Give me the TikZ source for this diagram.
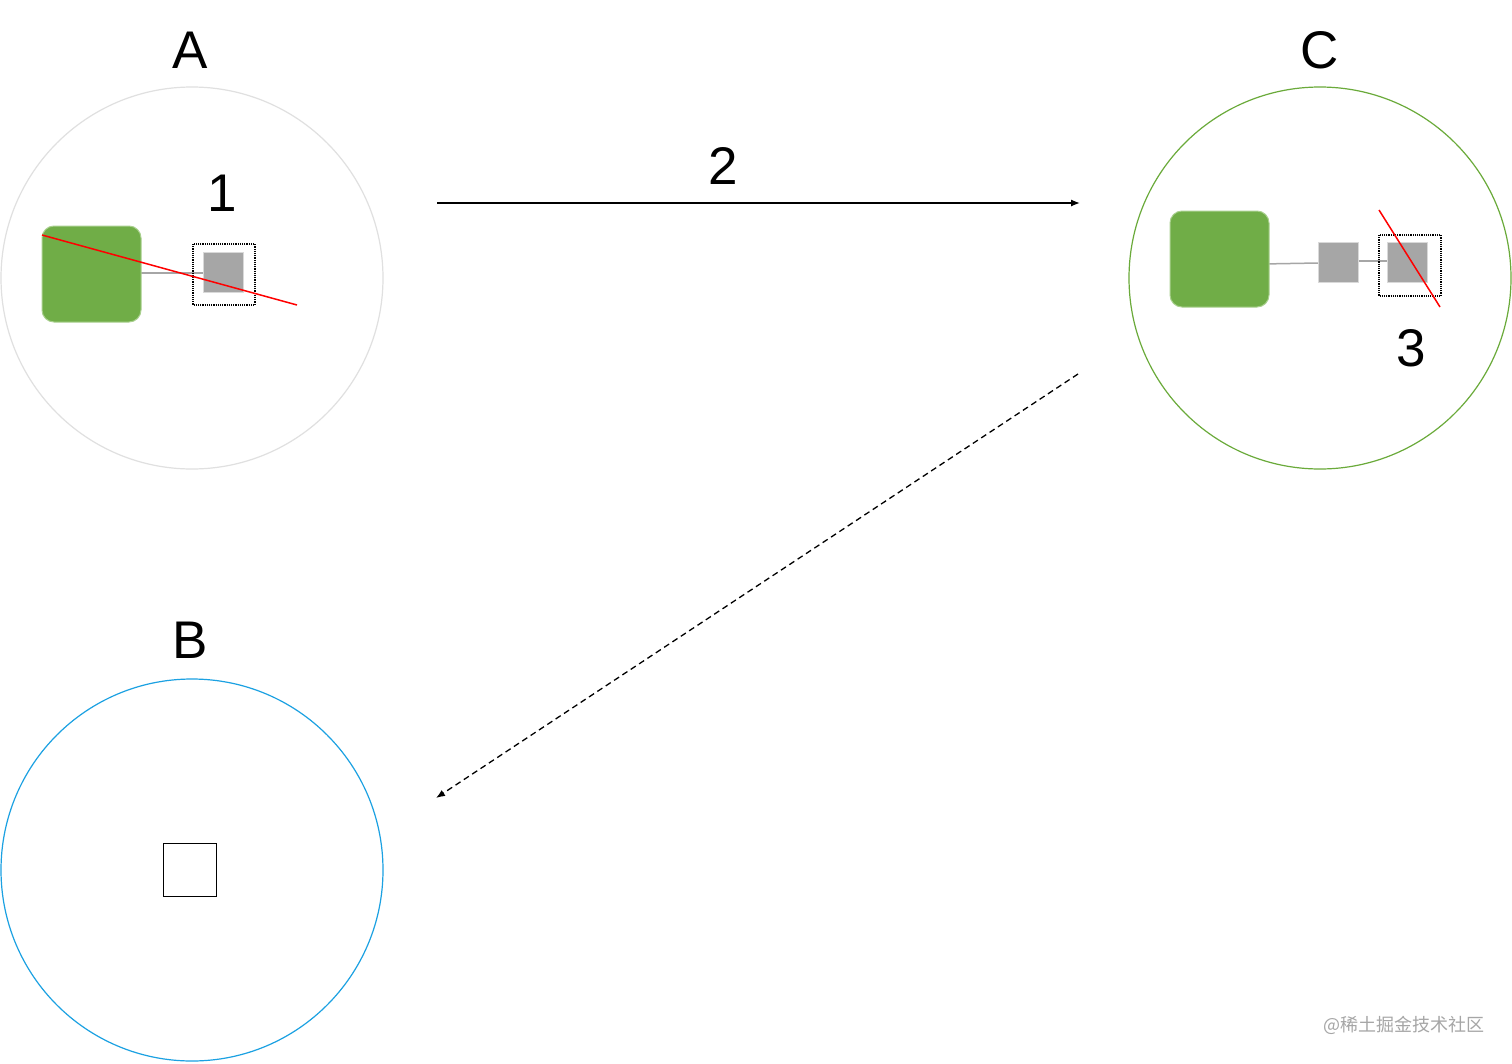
\documentclass[tikz,border=0pt]{standalone}
\usepackage{fontspec}
\setmainfont{Liberation Sans}
\newfontfamily\cjk{Noto Sans CJK SC}
\usetikzlibrary{arrows.meta}
\definecolor{gA}{HTML}{E0E0E0}
\definecolor{gC}{HTML}{6AAA3A}
\definecolor{bB}{HTML}{1BA1E2}
\definecolor{gfill}{HTML}{70AD47}
\definecolor{gedge}{HTML}{A9D08E}
\definecolor{sq}{HTML}{A6A6A6}
\definecolor{sqedge}{HTML}{D9D9D9}
\tikzset{
  x=1pt,y=-1pt,
  zone/.style={circle,draw,line width=1.2pt,minimum size=382pt,inner sep=0pt},
  lbl/.style={font=\fontsize{53}{60}\selectfont,inner sep=0pt},
  gbox/.style={rounded corners=12pt,fill=gfill,draw=gedge,line width=1pt},
  gsq/.style={fill=sq,draw=sqedge,line width=1pt,minimum size=40pt,inner sep=0pt},
  frame/.style={draw,densely dotted,line width=1.2pt},
  link/.style={draw=sq,line width=1.5pt},
  cut/.style={draw=red,line width=1.5pt},
  flow/.style={line width=1.3pt,-{Latex[length=9pt,width=7pt]}},
}
\begin{document}
\begin{tikzpicture}
\useasboundingbox[fill=white] (0,0) rectangle (1512,1063);
% zones
\node[zone,draw=gA] (zA) at (192,278) {};
\node[zone,draw=gC] (zC) at (1320,278) {};
\node[zone,draw=bB] (zB) at (192,870) {};
\node[lbl] (tA) at (190,50) {A};
\node[lbl] (tC) at (1320,50) {C};
\node[lbl] (tB) at (190,640) {B};
% A contents
\draw[link] (141,273) coordinate (a1) -- (203,273) coordinate (a2);
\draw[gbox] (42,226) rectangle (141,322);
\node[gsq] (sA) at (223,272) {};
\draw[frame] (193,244) rectangle (255,305);
\draw[cut] (42,235) coordinate (r1) -- (297,305) coordinate (r2);
\node[lbl] (t1) at (222,193) {1};
% arrow 2
\coordinate (s2) at (437,203);
\coordinate (e2) at (1080,203);
\draw[flow] (s2) -- (e2);
\node[lbl] (t2) at (723,166) {2};
% C contents
\draw[link] (1262,264) -- (1318,263);
\draw[link] (1358,261) -- (1387,261);
\draw[gbox] (1170,211) rectangle (1269,307);
\node[gsq] (sC1) at (1338,262) {};
\node[gsq] (sC2) at (1407,262) {};
\draw[frame] (1379,235) rectangle (1441,296);
\draw[cut] (1379,210) coordinate (r3) -- (1440,307) coordinate (r4);
\node[lbl] (t3) at (1411,348) {3};
% dashed arrow
\coordinate (s4) at (1078,374);
\coordinate (e4) at (436,798);
\draw[flow,dashed,dash pattern=on 6pt off 4pt] (s4) -- (e4);
% B contents
\node[draw=black,line width=1.5pt,minimum size=53pt,inner sep=0pt] (sB) at (190,870) {};
% watermark
\node[text=black!35,font=\cjk\fontsize{18}{22}\selectfont,inner sep=0pt] (wm) at (1404,1025) {@稀土掘金技术社区};
\end{tikzpicture}
\end{document}
